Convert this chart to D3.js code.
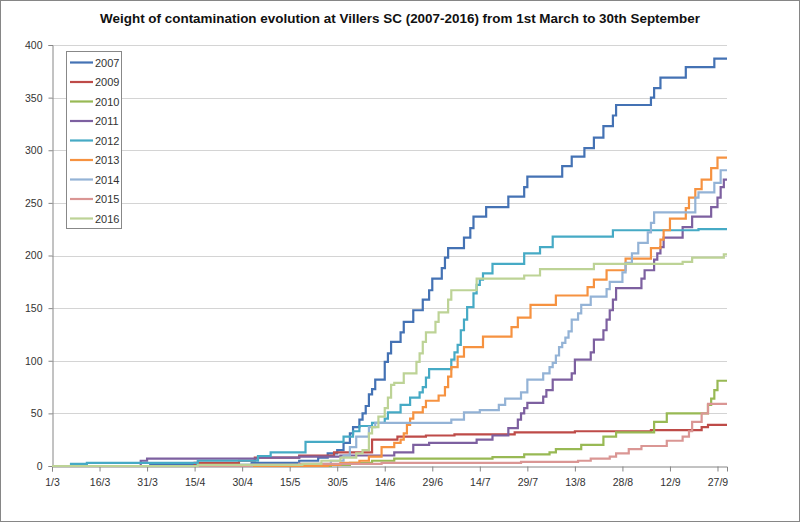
<!DOCTYPE html>
<html lang="en">
<head>
<meta charset="UTF-8">
<title>Weight of contamination evolution</title>
<script src="https://cdn.jsdelivr.net/npm/d3@7"></script>
<style>
	body { margin: 0; background: #fff; }
	svg text { font-family: "Liberation Sans", Arial, sans-serif; }
</style>
</head>
<body>
<svg id="chart" width="800" height="522"></svg>
<script>
	// cumulative weight per season, [day/month, value]
	const years = ["2007", "2009", "2010", "2011", "2012", "2013", "2014", "2015", "2016"];
	const colors = ["#4472B4", "#BE4B48", "#98B954", "#7D60A0", "#46AAC5", "#F69240", "#94B3D6", "#DA9694", "#BDD396"];

	const s2007 = [["1/3",0],["1/4",1],["3/5",3],["18/5",5],["24/5",8],["27/5",12],["30/5",15],["1/6",22],["3/6",31],
		["4/6",37],["6/6",44],["7/6",50],["8/6",57],["9/6",68],["10/6",73],["11/6",82],["14/6",99],["15/6",107],["16/6",118],
		["19/6",127],["20/6",137],["23/6",148],["26/6",158],["28/6",167],["29/6",178],["2/7",188],["3/7",198],["4/7",207],
		["9/7",217],["11/7",226],["12/7",237],["16/7",246],["23/7",256],["28/7",265],["29/7",275],["9/8",285],["12/8",294],
		["16/8",302],["19/8",312],["22/8",323],["25/8",333],["26/8",343],["6/9",350],["7/9",359],["9/9",369],["17/9",379],["26/9",387]];
	const s2009 = [["1/3",0],["15/4",3],["29/4",5],["4/5",8],["18/5",10],["29/5",13],["10/6",25],["18/6",28],["27/6",29],
		["6/7",30],["25/7",32],["13/8",33],["6/9",34],["22/9",37],["24/9",39]];
	const s2010 = [["1/3",0],["28/5",1],["3/6",3],["10/6",5],["17/6",7],["18/7",8.5],["28/7",11],["5/8",13],["7/8",16],
		["15/8",20],["22/8",28],["26/8",32],["7/9",42],["11/9",50],["24/9",58],["25/9",64],["26/9",72],["27/9",81]];
	const s2011 = [["1/3",0],["29/3",5],["31/3",7],["5/5",8],["18/5",9],["31/5",10],["17/6",13],["23/6",20],["28/6",22],
		["13/7",25],["18/7",29],["23/7",36],["26/7",44],["27/7",50],["28/7",55],["29/7",60],["3/8",66],["4/8",72],["6/8",82],
		["12/8",88],["13/8",101],["18/8",108],["19/8",120],["22/8",129],["23/8",139],["24/8",148],["25/8",158],["26/8",169],
		["3/9",178],["4/9",186],["7/9",196],["8/9",202],["9/9",208],["10/9",217],["16/9",227],["19/9",237],["25/9",246],
		["27/9",255],["28/9",265],["29/9",272]];
	const s2012 = [["1/3",0],["7/3",2],["12/3",3],["16/4",5],["5/5",9.5],["9/5",13],["20/5",23],["1/6",28],["4/6",33],
		["6/6",38],["10/6",41],["14/6",45],["15/6",51],["19/6",58],["22/6",65],["25/6",70],["26/6",75],["27/6",84],["28/6",92],
		["5/7",101],["6/7",108],["7/7",115],["8/7",129],["9/7",139],["10/7",151],["12/7",164],["13/7",172],["14/7",177],
		["15/7",183],["18/7",192],["28/7",202],["2/8",208],["6/8",218],["25/8",224],["21/9",225]];
	const s2013 = [["1/3",0],["27/5",1],["31/5",3],["6/6",5],["9/6",9],["13/6",18],["17/6",22],["19/6",25],["20/6",31],
		["21/6",39],["22/6",45],["23/6",51],["26/6",56],["27/6",62],["1/7",67],["3/7",75],["4/7",85],["5/7",94],["7/7",104],
		["9/7",113],["15/7",123],["24/7",132],["26/7",141],["30/7",153],["7/8",162],["17/8",170],["19/8",177],["23/8",186],
		["29/8",197],["6/9",207],["9/9",215],["10/9",224],["12/9",235],["17/9",245],["18/9",255],["20/9",263],["22/9",272],
		["25/9",283],["27/9",293]];
	const s2014 = [["1/3",0],["3/5",1],["18/5",2],["28/5",5],["1/6",10],["3/6",18],["5/6",28],["9/6",37],["11/6",41],
		["5/7",44],["9/7",51],["14/7",53],["20/7",58],["22/7",64],["27/7",70],["29/7",82],["3/8",88],["5/8",94],["6/8",98],
		["7/8",105],["8/8",113],["9/8",117],["10/8",122],["11/8",128],["12/8",139],["14/8",145],["15/8",153],["18/8",161],
		["23/8",168],["24/8",175],["28/8",184],["29/8",193],["31/8",202],["2/9",212],["5/9",222],["6/9",231],["7/9",241],
		["20/9",255],["21/9",260],["26/9",269],["28/9",281]];
	const s2015 = [["1/3",0],["3/5",1],["18/5",2],["13/6",3],["27/7",4],["14/8",5],["18/8",7],["24/8",9],["26/8",12],
		["30/8",16],["3/9",19],["11/9",24],["16/9",28],["18/9",33],["19/9",42],["22/9",50],["24/9",59]];
	const s2016 = [["1/3",0],["16/4",1],["19/5",2],["25/5",5],["31/5",8],["5/6",12],["7/6",15],["9/6",31],["10/6",37],
		["12/6",47],["14/6",55],["15/6",65],["16/6",77],["17/6",79],["20/6",88],["24/6",99],["25/6",107],["26/6",118],
		["27/6",127],["30/6",137],["1/7",146],["4/7",158],["5/7",167],["13/7",178],["28/7",181],["2/8",187],["19/8",192],
		["16/9",194],["19/9",198],["29/9",201]];
	const series = [s2007, s2009, s2010, s2011, s2012, s2013, s2014, s2015, s2016];

	const tickDates = ["1/3","16/3","31/3","15/4","30/4","15/5","30/5","14/6","29/6","14/7","29/7","13/8","28/8","12/9","27/9"];
	const yTicks = [0, 50, 100, 150, 200, 250, 300, 350, 400];
	const firstDay = "1/3", lastDay = "30/9";
	const title = "Weight of contamination evolution at Villers SC (2007-2016) from 1st March to 30th September";

	let parse = s => d3.timeParse("%d/%m/%Y")(s + "/2015");

	let svg = d3.select("#chart");
	svg.append("rect")
		.attr("x", 0.5).attr("y", 0.5)
		.attr("width", 799).attr("height", 521)
		.attr("fill", "#fff").attr("stroke", "#868686");

	let x = d3.scaleTime()
		.domain([parse(firstDay), parse(lastDay)])
		.range([52, 727]);
	let y = d3.scaleLinear()
		.domain([0, 400])
		.range([466, 45]);

	// gridlines
	svg.append("g")
		.selectAll("line")
		.data(yTicks.slice(1))
		.enter()
		.append("line")
		.attr("x1", x.range()[0]).attr("x2", x.range()[1])
		.attr("y1", d => Math.round(y(d)) + 0.5).attr("y2", d => Math.round(y(d)) + 0.5)
		.attr("stroke", "#D4D4D4");

	let yaxis = d3.axisLeft(y).tickValues(yTicks).tickSize(4).tickPadding(6);
	let gy = svg.append("g")
		.attr("transform", "translate(52.5,0)")
		.call(yaxis);

	let xaxis = d3.axisBottom(x)
		.tickValues(tickDates.map(parse))
		.tickFormat(d3.timeFormat("%-d/%-m"))
		.tickSize(5).tickPadding(7);
	let gx = svg.append("g")
		.attr("transform", "translate(0,466.5)")
		.call(xaxis);

	[gx, gy].forEach(g => {
		g.select(".domain").attr("stroke", "#868686");
		g.selectAll(".tick line").attr("stroke", "#868686");
		g.selectAll(".tick text").attr("fill", "#333").attr("font-size", "10.5px")
			.style("font-family", "'Liberation Sans', Arial, sans-serif");
	});

	let line = d3.line()
		.x(d => x(parse(d[0])))
		.y(d => y(d[1]))
		.curve(d3.curveStepAfter);

	svg.append("g")
		.selectAll("path")
		.data(series)
		.enter()
		.append("path")
		.attr("d", d => line(d.concat([[lastDay, d[d.length - 1][1]]])))
		.attr("fill", "none")
		.attr("stroke", (d, i) => colors[i])
		.attr("stroke-width", 2.2)
		.attr("stroke-linejoin", "miter");

	// legend
	let legend = svg.append("g").attr("transform", "translate(66,51)");
	legend.append("rect")
		.attr("x", 0.5).attr("y", 0.5)
		.attr("width", 55).attr("height", 177)
		.attr("fill", "#fff").attr("stroke", "#888");
	let item = legend.selectAll("g.item")
		.data(years)
		.enter()
		.append("g")
		.attr("class", "item")
		.attr("transform", (d, i) => "translate(0," + (11.5 + i * 19.5) + ")");
	item.append("line")
		.attr("x1", 4).attr("x2", 27)
		.attr("stroke", (d, i) => colors[i])
		.attr("stroke-width", 2.2);
	item.append("text")
		.attr("x", 29).attr("y", 4)
		.attr("font-size", "11px")
		.attr("fill", "#333")
		.text(d => d);

	// title
	let t = svg.append("text")
		.attr("x", 400).attr("y", 23)
		.attr("text-anchor", "middle")
		.attr("font-weight", "bold")
		.attr("font-size", "14px")
		.attr("fill", "#111")
		.text(title);
	let w = t.node().getComputedTextLength();
	t.attr("font-size", (14 * 600 / w).toFixed(2) + "px");
</script>
</body>
</html>
